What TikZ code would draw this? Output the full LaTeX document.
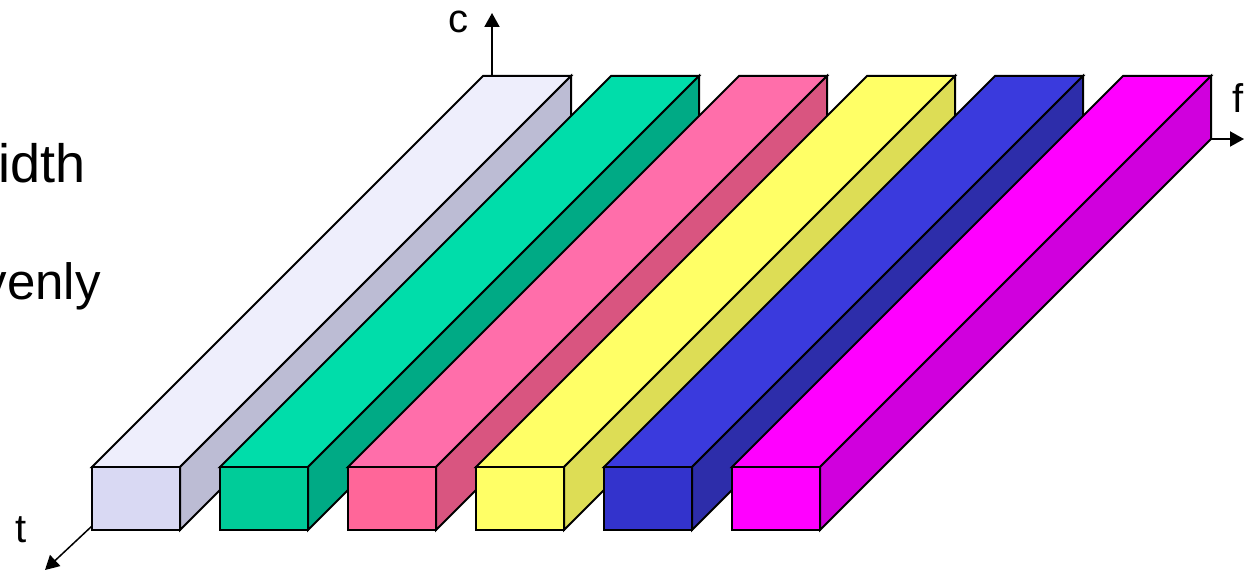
\documentclass[tikz,border=0pt]{standalone}
\usepackage{fontspec}
\setmainfont{Liberation Sans}
\usetikzlibrary{arrows.meta}
\definecolor{aT}{HTML}{EEEEFC}\definecolor{aF}{HTML}{D9D9F3}\definecolor{aS}{HTML}{BCBCD4}
\definecolor{bT}{HTML}{00DDAA}\definecolor{bF}{HTML}{00CC99}\definecolor{bS}{HTML}{00AA85}
\definecolor{cT}{HTML}{FF6EAA}\definecolor{cF}{HTML}{FF6699}\definecolor{cS}{HTML}{D95580}
\definecolor{dT}{HTML}{FFFF66}\definecolor{dF}{HTML}{FFFF66}\definecolor{dS}{HTML}{DDDD55}
\definecolor{eT}{HTML}{3A3ADD}\definecolor{eF}{HTML}{3333CC}\definecolor{eS}{HTML}{2D2DAA}
\definecolor{fT}{HTML}{FF00FF}\definecolor{fF}{HTML}{FF00FF}\definecolor{fS}{HTML}{D000DD}
\newcommand\drawbar[4]{%
  \filldraw[edge,fill=#2] (#1,467) -- ({#1+88},467) -- ({#1+479},76) -- ({#1+391},76) -- cycle;
  \filldraw[edge,fill=#4] ({#1+88},467) -- ({#1+88},530) -- ({#1+479},139) -- ({#1+479},76) -- cycle;
  \filldraw[edge,fill=#3] (#1,467) rectangle ({#1+88},530);
}
\begin{document}
\begin{tikzpicture}[x=1pt,y=-1pt,
  edge/.style={draw=black,line width=2pt,line join=miter},
  axis/.style={line width=2pt,-{Triangle[length=14pt,width=15pt]}},
  lbl/.style={font=\fontsize{40}{44}\selectfont,inner sep=0pt},
  big/.style={font=\fontsize{54}{60}\selectfont,inner sep=0pt}]
\useasboundingbox (0,0) rectangle (1247,572);
\node[big,anchor=base east] (w1) at (86,183) {idth};
\node[big,anchor=base east,font=\fontsize{51}{56}\selectfont] (w2) at (101,299) {venly};
\drawbar{92}{aT}{aF}{aS}
\drawbar{220}{bT}{bF}{bS}
\drawbar{348}{cT}{cF}{cS}
\drawbar{476}{dT}{dF}{dS}
\drawbar{604}{eT}{eF}{eS}
\drawbar{732}{fT}{fF}{fS}
\coordinate (c0) at (492,76);
\coordinate (c1) at (492,13);
\coordinate (f0) at (1211,139);
\coordinate (f1) at (1244,139);
\coordinate (t0) at (92,526);
\coordinate (t1) at (45,570);
\draw[axis] (c0) -- (c1);
\draw[axis] (f0) -- (f1);
\draw[axis,line width=1.5pt] (t0) -- (t1);
\node[lbl] (lc) at (458,22) {c};
\node[lbl] (lf) at (1238,98) {f};
\node[lbl] (lt) at (21,530) {t};
\end{tikzpicture}
\end{document}
